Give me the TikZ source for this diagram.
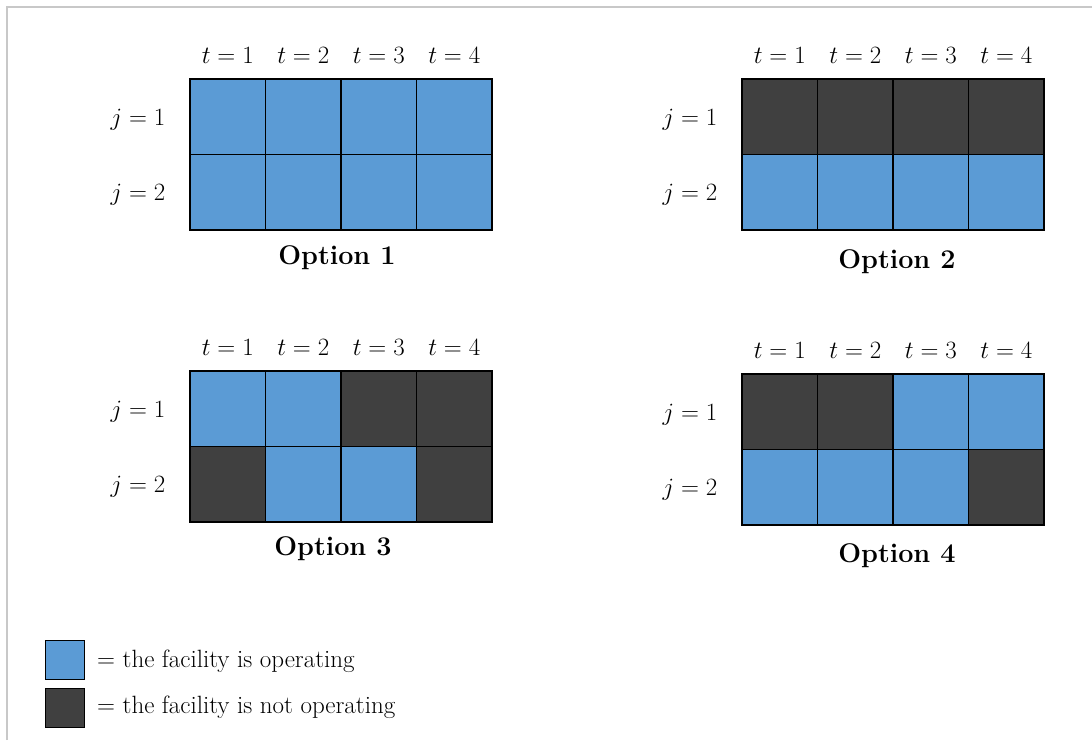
\documentclass[tikz,border=0pt]{standalone}
\definecolor{opblue}{HTML}{5B9BD5}
\definecolor{offgray}{HTML}{404040}
\definecolor{framegray}{HTML}{C8C8C8}
% one 2x4 schedule grid: #1 name, #2 left x, #3 top y, #4 row j=1 styles, #5 row j=2 styles
\newcommand\optiongrid[5]{%
  \foreach \s [count=\c] in {#4}
    \node[\s] (#1r1c\c) at ({#2+(\c-1)*75.5},#3) {};
  \foreach \s [count=\c] in {#5}
    \node[\s] (#1r2c\c) at ({#2+(\c-1)*75.5},{#3+75.5}) {};
  \foreach \c in {1,...,4}
    \node[idx] (#1t\c) at ({#2+(\c-0.5)*75.5},{#3-24}) {$t=\c$};
  \node[idx] (#1j1) at ({#2-52},{#3+41}) {$j=1$};
  \node[idx] (#1j2) at ({#2-52},{#3+116}) {$j=2$};
}
\begin{document}
\begin{tikzpicture}[x=1pt,y=-1pt,
  cell/.style={draw=black, line width=1.2pt, minimum width=75.5pt,
    minimum height=75.5pt, inner sep=0pt, outer sep=0pt, anchor=north west},
  opcell/.style={cell, fill=opblue},
  idlecell/.style={cell, fill=offgray},
  idx/.style={font=\fontsize{24}{28}\selectfont},
  title/.style={font=\fontsize{27}{32}\selectfont\bfseries},
  legtext/.style={font=\fontsize{25}{30}\selectfont, anchor=west, inner sep=0pt},
  legbox/.style={draw=black, line width=1.2pt, minimum size=39pt, inner sep=0pt,
    anchor=north west},
]
\useasboundingbox (0,0) rectangle (1092,740);
\fill[white] (0,0) rectangle (1092,740);
\draw[framegray, line width=2pt] (7,740) -- (7,7) -- (1092,7);

\optiongrid{a}{190}{79}{opcell,opcell,opcell,opcell}{opcell,opcell,opcell,opcell}
\node[title] (atitle) at (337,258) {Option 1};

\optiongrid{b}{742}{79}{idlecell,idlecell,idlecell,idlecell}{opcell,opcell,opcell,opcell}
\node[title] (btitle) at (897,262) {Option 2};

\optiongrid{c}{190}{371}{opcell,opcell,idlecell,idlecell}{idlecell,opcell,opcell,idlecell}
\node[title] (ctitle) at (333,549) {Option 3};

\optiongrid{d}{742}{374}{idlecell,idlecell,opcell,opcell}{opcell,opcell,opcell,idlecell}
\node[title] (dtitle) at (897,556) {Option 4};

\node[legbox, fill=opblue] (legon) at (45,640) {};
\node[legtext] (legontext) at (97,661) {$=$ the facility is operating};
\node[legbox, fill=offgray] (legoff) at (45,688) {};
\node[legtext] (legofftext) at (97,707) {$=$ the facility is not operating};
\end{tikzpicture}
\end{document}
